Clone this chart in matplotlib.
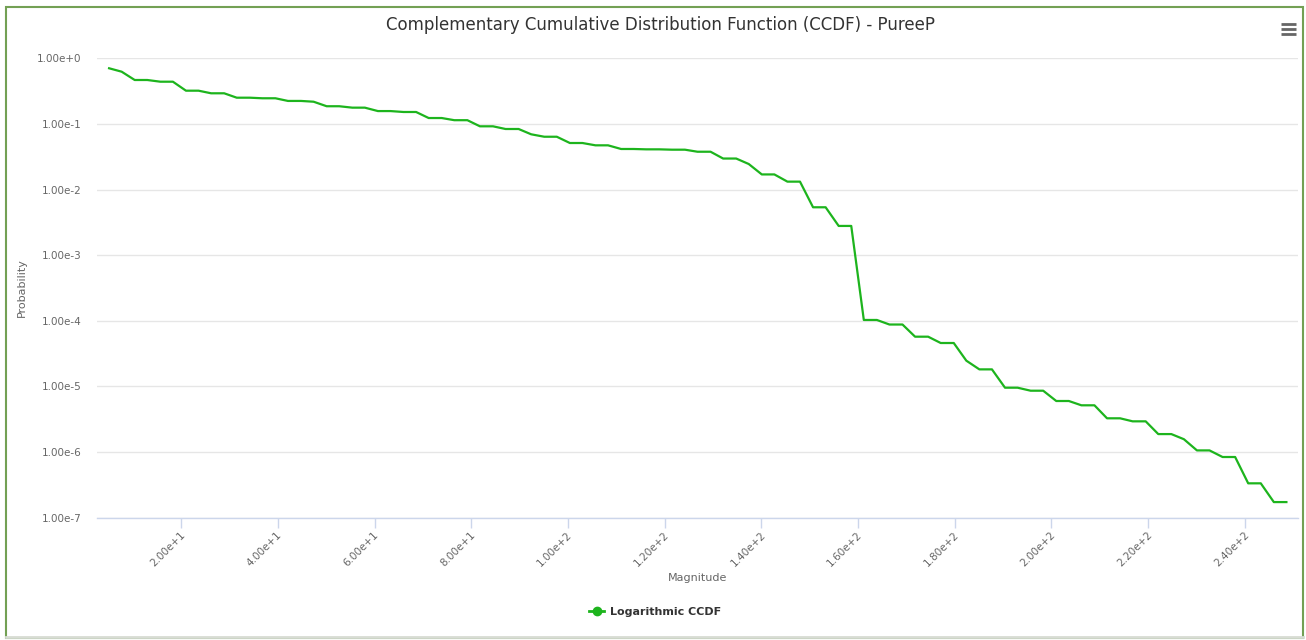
import matplotlib
matplotlib.use("Agg")
import matplotlib.pyplot as plt
import matplotlib.transforms as mtransforms
from matplotlib.ticker import FixedLocator, FuncFormatter, NullLocator
from matplotlib.lines import Line2D
from matplotlib.patches import Rectangle

# magnitude bins of the series
magnitude = [
    5.1, 7.7, 10.4, 13.0, 15.7, 18.3, 21.0, 23.6, 26.2, 28.9,
    31.5, 34.2, 36.8, 39.5, 42.1, 44.8, 47.4, 50.1, 52.7, 55.4,
    58.0, 60.7, 63.3, 66.0, 68.6, 71.2, 73.9, 76.5, 79.2, 81.8,
    84.5, 87.1, 89.8, 92.4, 95.1, 97.7, 100.4, 103.0, 105.7, 108.3,
    111.0, 113.6, 116.2, 118.9, 121.5, 124.2, 126.8, 129.5, 132.1, 134.8,
    137.4, 140.1, 142.7, 145.4, 148.0, 150.7, 153.3, 156.0, 158.6, 161.2,
    163.9, 166.5, 169.2, 171.8, 174.5, 177.1, 179.8, 182.4, 185.1, 187.7,
    190.4, 193.0, 195.7, 198.3, 201.0, 203.6, 206.2, 208.9, 211.5, 214.2,
    216.8, 219.5, 222.1, 224.8, 227.4, 230.1, 232.7, 235.4, 238.0, 240.7,
    243.3, 246.0, 248.6,
]

# complementary cumulative probability per bin
ccdf = [
    0.705, 0.625, 0.467, 0.467, 0.440, 0.440, 0.321, 0.321, 0.293, 0.293,
    0.251, 0.251, 0.246, 0.246, 0.224, 0.224, 0.218, 0.186, 0.186, 0.177,
    0.177, 0.157, 0.157, 0.152, 0.152, 0.123, 0.123, 0.114, 0.114, 0.092,
    0.092, 0.0837, 0.0837, 0.0695, 0.0638, 0.0638, 0.0512, 0.0512, 0.0472, 0.0472,
    0.0415, 0.0415, 0.0410, 0.0410, 0.0405, 0.0405, 0.0377, 0.0377, 0.0297, 0.0297,
    0.0245, 0.0170, 0.0170, 0.0132, 0.0132, 0.00537, 0.00537, 0.00279, 0.00279, 1.03e-4,
    1.03e-4, 8.78e-5, 8.78e-5, 5.73e-5, 5.73e-5, 4.59e-5, 4.59e-5, 2.47e-5, 1.82e-5, 1.82e-5,
    9.57e-6, 9.57e-6, 8.61e-6, 8.61e-6, 6.00e-6, 6.00e-6, 5.16e-6, 5.16e-6, 3.27e-6, 3.27e-6,
    2.94e-6, 2.94e-6, 1.88e-6, 1.88e-6, 1.57e-6, 1.06e-6, 1.06e-6, 8.41e-7, 8.41e-7, 3.34e-7,
    3.34e-7, 1.73e-7, 1.73e-7,
]

x_ticks = [20, 40, 60, 80, 100, 120, 140, 160, 180, 200, 220, 240]
y_ticks = [1e0, 1e-1, 1e-2, 1e-3, 1e-4, 1e-5, 1e-6, 1e-7]

title = "Complementary Cumulative Distribution Function (CCDF) - PureeP"
series_name = "Logarithmic CCDF"

LINE_COLOR = "#1db41d"
GRID_COLOR = "#e6e6e6"
AXIS_COLOR = "#ccd6eb"
LABEL_COLOR = "#666666"
TEXT_COLOR = "#333333"

plt.rcParams['font.family'] = ['DejaVu Sans']


def sci_label(v, pos=None):
    # 1.00e+2 / 1.00e-3 style, no zero padding on the exponent
    mant, exp = f"{v:.2e}".split("e")
    return f"{mant}e{'+' if int(exp) >= 0 else '-'}{abs(int(exp))}"


W, H = 1306, 640
fig = plt.figure(figsize=(W / 100, H / 100), dpi=100)
fig.patch.set_facecolor("white")

# outer frame
fig.add_artist(Rectangle((6 / W, 2 / H), 1297 / W, 631 / H, transform=fig.transFigure,
                         fill=False, edgecolor="#73a054", linewidth=1.5))
fig.add_artist(Line2D([6 / W, 1303 / W], [3 / H, 3 / H], transform=fig.transFigure,
                      color="#d8dcd4", linewidth=2))

left, right, top, bottom = 97, 1298, 58.3, 517.7
ax = fig.add_axes([left / W, 1 - bottom / H, (right - left) / W, (bottom - top) / H])

ax.plot(magnitude, ccdf, color=LINE_COLOR, linewidth=1.6, solid_joinstyle="round", zorder=3)

ax.set_yscale("log")
ax.set_ylim(1e-7, 1e0)
ax.set_xlim(2.6, 251.0)

ax.yaxis.set_major_locator(FixedLocator(y_ticks))
ax.yaxis.set_minor_locator(NullLocator())
ax.yaxis.set_major_formatter(FuncFormatter(sci_label))
ax.xaxis.set_major_locator(FixedLocator(x_ticks))
ax.xaxis.set_major_formatter(FuncFormatter(sci_label))

ax.grid(True, axis="y", color=GRID_COLOR, linewidth=1)
ax.set_axisbelow(True)
for side in ["left", "right", "top"]:
    ax.spines[side].set_visible(False)
ax.spines["bottom"].set_color(AXIS_COLOR)
ax.spines["bottom"].set_linewidth(1)

ax.tick_params(axis="y", length=0, pad=11, labelsize=7.5, labelcolor=LABEL_COLOR)
ax.tick_params(axis="x", length=7, width=1, color=AXIS_COLOR, pad=0,
               labelsize=7.5, labelcolor=LABEL_COLOR)
shift = mtransforms.ScaledTranslation(-1 / 100, -2 / 100, fig.dpi_scale_trans)
for lbl in ax.get_xticklabels():
    lbl.set_rotation(45)
    lbl.set_ha("right")
    lbl.set_rotation_mode("anchor")
    lbl.set_transform(lbl.get_transform() + shift)

ax.set_xlabel("Magnitude", fontsize=8, color=LABEL_COLOR)
ax.xaxis.set_label_coords(0.5, -(573 - bottom) / (bottom - top))
ax.set_ylabel("Probability", fontsize=8, color=LABEL_COLOR)
ax.yaxis.set_label_coords(-(left - 27) / (right - left), 0.5)

fig.text(660 / W, 1 - 25 / H, title, ha="center", va="center", fontsize=12, color=TEXT_COLOR)

# legend below the chart
leg = fig.legend(handles=[Line2D([], [], color=LINE_COLOR, linewidth=2, marker="o", markersize=6)],
                 labels=[series_name], loc="center", bbox_to_anchor=(655 / W, 1 - 612 / H),
                 frameon=False, handlelength=1.4, handletextpad=0.5,
                 prop={"size": 8, "weight": "bold"})
for t in leg.get_texts():
    t.set_color(TEXT_COLOR)

# menu icon
for yy in (24, 29, 34):
    fig.add_artist(Line2D([1281 / W, 1296 / W], [1 - yy / H, 1 - yy / H], transform=fig.transFigure,
                          color="#666666", linewidth=2, solid_capstyle="butt"))

fig.savefig("out.png", dpi=100)
